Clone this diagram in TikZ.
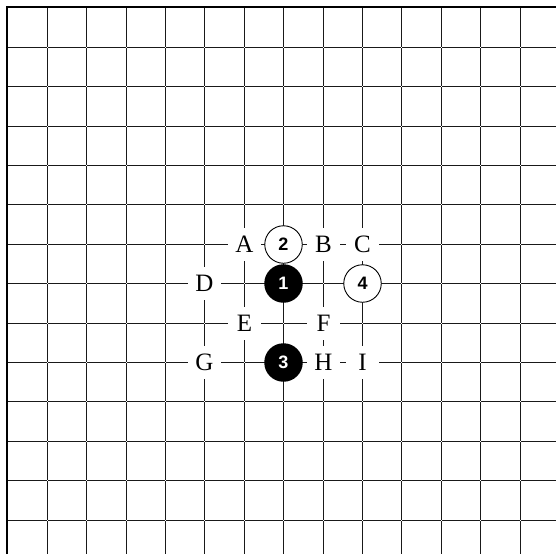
\documentclass[tikz,border=0pt]{standalone}
\usepackage{fontspec}
\setmainfont{Liberation Serif}
\newfontfamily\stonefont{Liberation Sans}
\begin{document}
\begin{tikzpicture}[x=1pt,y=-1pt,
  gridline/.style={draw=black!90, line width=1.6pt, shorten <=0.6pt, shorten >=0.6pt},
  boardedge/.style={draw=black, line width=2pt},
  blackstone/.style={circle, fill=black, minimum size=38.5pt, inner sep=0pt, text=white, font=\stonefont\bfseries\fontsize{18}{18}\selectfont},
  whitestone/.style={circle, draw=black, line width=0.9pt, fill=white, minimum size=37.5pt, inner sep=0pt, text=black, font=\stonefont\bfseries\fontsize{18}{18}\selectfont},
  pointlabel/.style={rectangle, fill=white, minimum size=33pt, inner sep=0pt, font=\fontsize{25}{25}\selectfont}]
\useasboundingbox (0,0) rectangle (556,554);
\fill[white] (0,0) rectangle (556,554);
% grid segments (small gaps at the intersections)
\foreach \c in {47.5,86.5,126.5,165.5,204.5,244.5,283.5,323.5,362.5,401.5,441.5,480.5,520.5} {
  \foreach \a/\b in {7/47.5,47.5/86.5,86.5/126.5,126.5/165.5,165.5/204.5,204.5/244.5,244.5/283.5,283.5/323.5,323.5/362.5,362.5/401.5,401.5/441.5,441.5/480.5,480.5/520.5} {
    \draw[gridline] (\a,\c) -- (\b,\c);
    \draw[gridline] (\c,\a) -- (\c,\b);
  }
  \draw[gridline] (520.5,\c) -- (556.6,\c);
  \draw[gridline] (\c,520.5) -- (\c,554.6);
}
\draw[boardedge] (7,554) -- (7,7) -- (556,7);
% labels
\node[pointlabel] (A) at (244.5,244.5) {A};
\node[pointlabel] (B) at (323.5,244.5) {B};
\node[pointlabel] (C) at (362.5,244.5) {C};
\node[pointlabel] (D) at (204.5,283.5) {D};
\node[pointlabel] (E) at (244.5,323.5) {E};
\node[pointlabel] (F) at (323.5,323.5) {F};
\node[pointlabel] (G) at (204.5,362.5) {G};
\node[pointlabel] (H) at (323.5,362.5) {H};
\node[pointlabel] (I) at (362.5,362.5) {I};
% stones
\node[blackstone] (s1) at (283.5,283.5) {1};
\node[whitestone] (s2) at (283.5,244.5) {2};
\node[blackstone] (s3) at (283.5,362.5) {3};
\node[whitestone] (s4) at (362.5,283.5) {4};
\end{tikzpicture}
\end{document}
